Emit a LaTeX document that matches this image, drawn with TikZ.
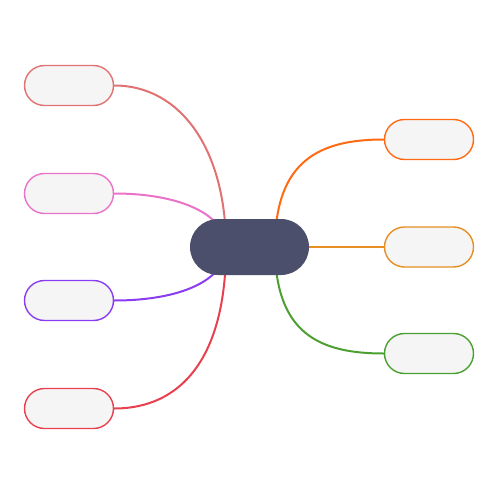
\documentclass[tikz,border=0pt]{standalone}
\usetikzlibrary{backgrounds}
\definecolor{cA}{HTML}{E07272}
\definecolor{cB}{HTML}{EA72C8}
\definecolor{cC}{HTML}{8A3CF0}
\definecolor{cD}{HTML}{E8404F}
\definecolor{cE}{HTML}{FF6A12}
\definecolor{cF}{HTML}{E68F22}
\definecolor{cG}{HTML}{4CA032}
\definecolor{rootfill}{HTML}{4B4F6B}
\definecolor{leaffill}{HTML}{F5F5F5}
\tikzset{
  leaf/.style={draw=#1, fill=leaffill, line width=1.4pt, rounded corners=20pt,
    minimum width=89pt, minimum height=40pt, inner sep=0pt},
  rootbox/.style={fill=rootfill, rounded corners=28pt, minimum width=119pt,
    minimum height=56pt, inner sep=0pt},
  link/.style={draw=#1, line width=2pt}
}
\begin{document}
\begin{tikzpicture}[x=1pt,y=-1pt]
\useasboundingbox (0,0) rectangle (500,500);
\node[rootbox] (root) at (249.5,247) {};
\coordinate (rl) at (226,247);
\coordinate (rr) at (275,247);
\node[leaf=cA] (l1) at (69,85.5) {};
\node[leaf=cB] (l2) at (69,193.5) {};
\node[leaf=cC] (l3) at (69,300.5) {};
\node[leaf=cD] (l4) at (69,408.5) {};
\node[leaf=cE] (r1) at (429,139.5) {};
\node[leaf=cF] (r2) at (429,247) {};
\node[leaf=cG] (r3) at (429,353.5) {};
\begin{scope}[on background layer]
\draw[link=cA] (rl) .. controls (226,150) and (181,85.5) .. (l1.east);
\draw[link=cB] (rl) .. controls (226,215) and (181,193.5) .. (l2.east);
\draw[link=cC] (rl) .. controls (226,280) and (181,300.5) .. (l3.east);
\draw[link=cD] (rl) .. controls (226,358) and (181,408.5) .. (l4.east);
\draw[link=cE] (rr) .. controls (275,160) and (320,139.5) .. (r1.west);
\draw[link=cF] (root.center) -- (r2.west);
\draw[link=cG] (rr) .. controls (275,334) and (320,353.5) .. (r3.west);
\end{scope}
\end{tikzpicture}
\end{document}
